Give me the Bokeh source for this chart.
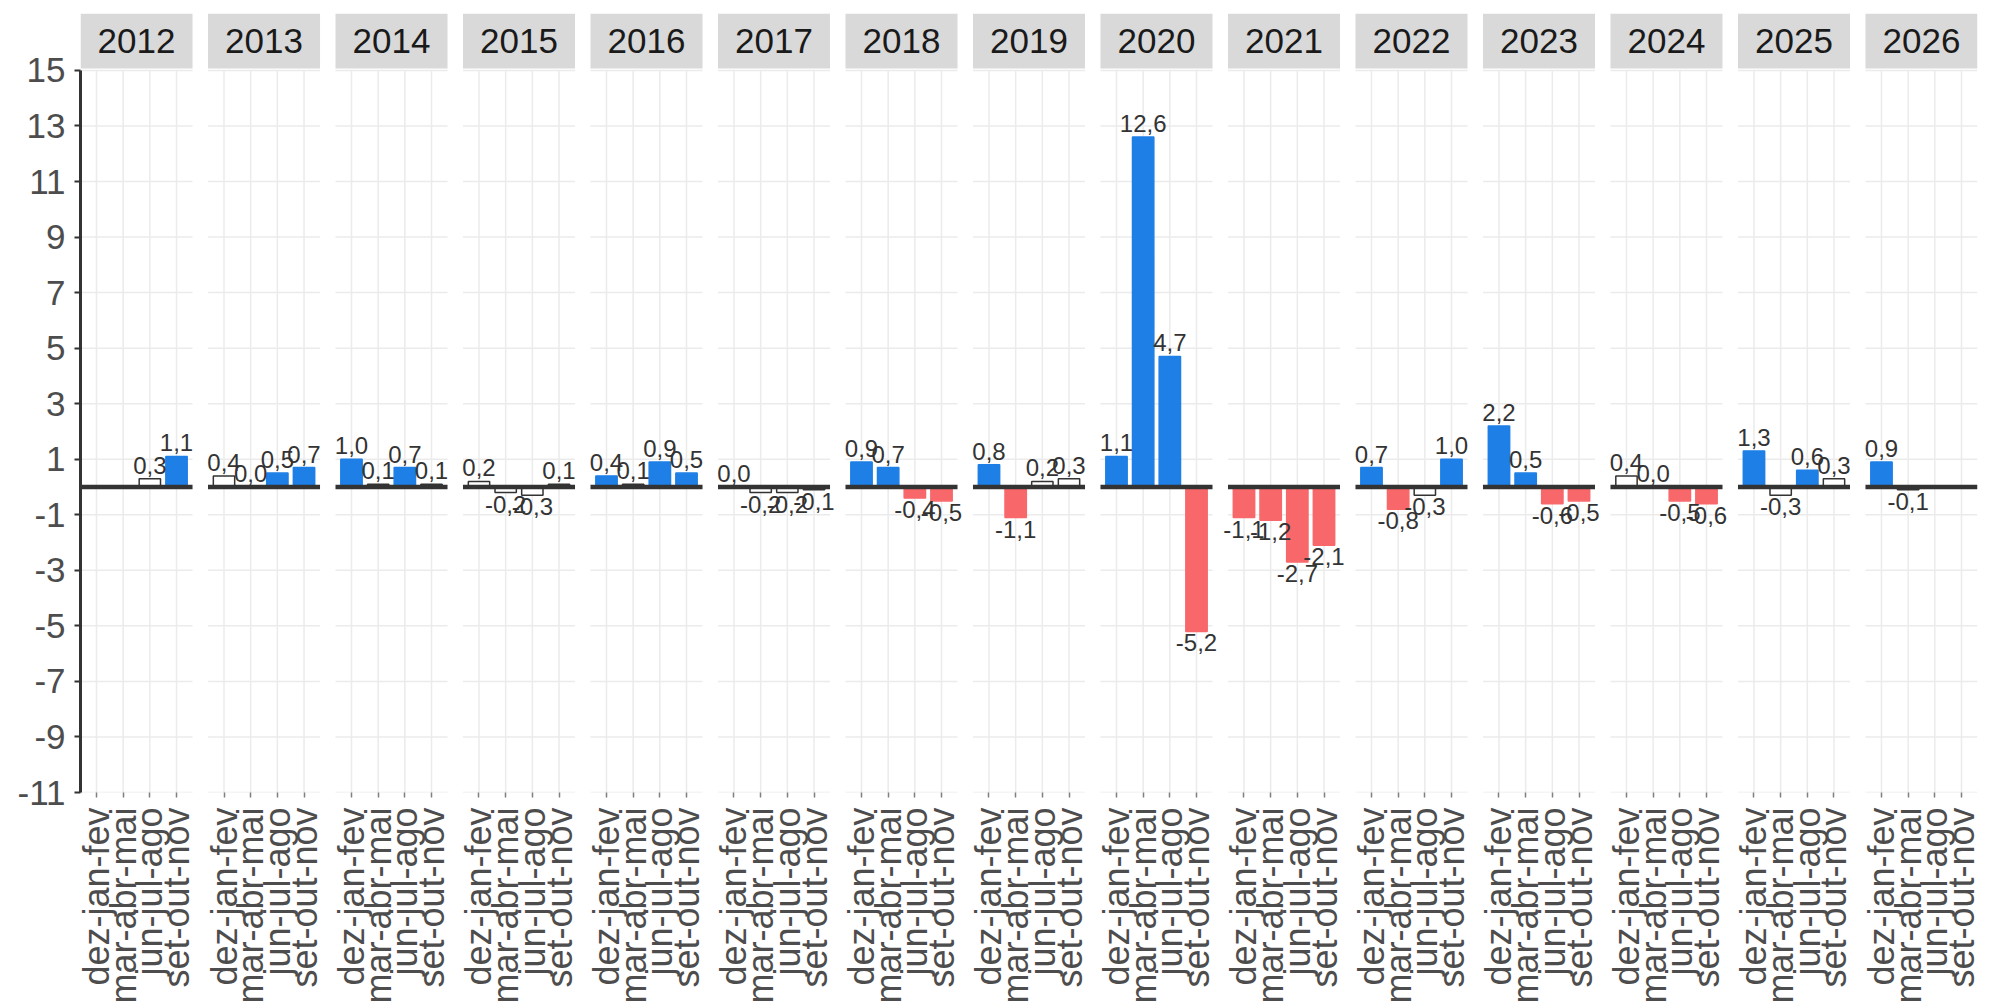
import math
from bokeh.plotting import figure
from bokeh.models import Range1d, FixedTicker, ColumnDataSource, AllLabels
from bokeh.embed import file_html
from bokeh.resources import INLINE
from bokeh.core.properties import value

# ---------------- data ----------------
years = [2012, 2013, 2014, 2015, 2016, 2017, 2018, 2019, 2020, 2021, 2022, 2023, 2024, 2025, 2026]
seasons = ["dez-jan-fev", "mar-abr-mai", "jun-jul-ago", "set-out-nov"]

dez_jan_fev = [None, 0.4, 1.0, 0.2, 0.4, 0.0, 0.9, 0.8, 1.1, -1.1, 0.7, 2.2, 0.4, 1.3, 0.9]
mar_abr_mai = [None, 0.0, 0.1, -0.2, 0.1, -0.2, 0.7, -1.1, 12.6, -1.2, -0.8, 0.5, 0.0, -0.3, -0.1]
jun_jul_ago = [0.3, 0.5, 0.7, -0.3, 0.9, -0.2, -0.4, 0.2, 4.7, -2.7, -0.3, -0.6, -0.5, 0.6, None]
set_out_nov = [1.1, 0.7, 0.1, 0.1, 0.5, -0.1, -0.5, 0.3, -5.2, -2.1, 1.0, -0.5, -0.6, 0.3, None]

# class of each bar: "+" above, "-" below, "0" not significant
cls_dez_jan_fev = ["", "0", "+", "0", "+", "0", "+", "+", "+", "-", "+", "+", "0", "+", "+"]
cls_mar_abr_mai = ["", "0", "0", "0", "0", "0", "+", "-", "+", "-", "-", "+", "0", "0", "0"]
cls_jun_jul_ago = ["0", "+", "+", "0", "+", "0", "-", "0", "+", "-", "0", "-", "-", "+", ""]
cls_set_out_nov = ["+", "+", "0", "0", "+", "0", "-", "0", "-", "-", "+", "-", "-", "0", ""]

y_ticks = [-11, -9, -7, -5, -3, -1, 1, 3, 5, 7, 9, 11, 13, 15]

series = [dez_jan_fev, mar_abr_mai, jun_jul_ago, set_out_nov]
classes = [cls_dez_jan_fev, cls_mar_abr_mai, cls_jun_jul_ago, cls_set_out_nov]

# ---------------- layout (facet geometry, in 1/100 of a category) ----------------
STEP = 100
OFFSET = 60
PANEL_W = 420
GAP = 58
PITCH = PANEL_W + GAP
X_MAX = len(years) * PANEL_W + (len(years) - 1) * GAP
Y_MIN, Y_MAX = -11, 15
STRIP_BOTTOM, STRIP_TOP = 15.07, 17.05

FILL = {"+": "#1E7FE6", "-": "#F8686B", "0": "#FFFFFF"}
LINE = {"+": "#1E7FE6", "-": "#F8686B", "0": "#333333"}
FONT = "Liberation Sans"

bars = dict(x=[], top=[], fill=[], line=[])
pos_lab = dict(x=[], y=[], t=[])
neg_lab = dict(x=[], y=[], t=[])
tick_pos, tick_lab = [], []
panel_left, panel_right, panel_mid = [], [], []

for i, yr in enumerate(years):
    left = i * PITCH
    panel_left.append(left)
    panel_right.append(left + PANEL_W)
    panel_mid.append(left + PANEL_W / 2)
    for j, s in enumerate(seasons):
        x = left + OFFSET + j * STEP
        tick_pos.append(x)
        tick_lab.append(s)
        v = series[j][i]
        if v is None:
            continue
        c = classes[j][i]
        bars["x"].append(x)
        bars["top"].append(v)
        bars["fill"].append(FILL[c])
        bars["line"].append(LINE[c])
        txt = f"{v:.1f}".replace(".", ",")
        d = pos_lab if v >= 0 else neg_lab
        d["x"].append(x)
        d["y"].append(v)
        d["t"].append(txt)

p = figure(width=1989, height=1006,
           x_range=Range1d(0, X_MAX), y_range=Range1d(Y_MIN, STRIP_TOP),
           output_backend="svg", toolbar_location=None,
           min_border_left=80, min_border_right=12, min_border_top=13, min_border_bottom=212)
p.outline_line_color = None
p.background_fill_color = "white"
p.xgrid.visible = False
p.ygrid.visible = False

# panel grid lines
hx0, hx1, hy = [], [], []
for l, r in zip(panel_left, panel_right):
    for t in y_ticks:
        hx0.append(l); hx1.append(r); hy.append(t)
p.segment(x0=hx0, x1=hx1, y0=hy, y1=hy, line_color="#EBEBEB", line_width=1.5)
p.segment(x0=tick_pos, x1=tick_pos, y0=[Y_MIN] * len(tick_pos), y1=[Y_MAX] * len(tick_pos),
          line_color="#EBEBEB", line_width=1.5)

# strips
p.quad(left=panel_left, right=panel_right, bottom=[STRIP_BOTTOM] * len(years),
       top=[STRIP_TOP] * len(years), fill_color="#D9D9D9", line_color=None)
p.text(x=panel_mid, y=[(STRIP_BOTTOM + STRIP_TOP) / 2] * len(years), text=[str(y) for y in years],
       text_font=value(FONT), text_font_size="35px", text_color="#1A1A1A",
       text_align="center", text_baseline="middle")

# bars
src = ColumnDataSource(bars)
p.vbar(x="x", top="top", bottom=0, width=80, source=src,
       fill_color="fill", line_color="line", line_width=1.5)

# zero line per panel
p.segment(x0=panel_left, x1=panel_right, y0=[0] * len(years), y1=[0] * len(years),
          line_color="#333333", line_width=4.5)

# value labels
p.text(x="x", y="y", text="t", source=ColumnDataSource(pos_lab),
       text_font=value(FONT), text_font_size="24px", text_color="#333333",
       text_align="center", text_baseline="bottom", y_offset=-5)
p.text(x="x", y="y", text="t", source=ColumnDataSource(neg_lab),
       text_font=value(FONT), text_font_size="24px", text_color="#333333",
       text_align="center", text_baseline="top", y_offset=3)

# y axis
ya = p.yaxis[0]
ya.ticker = FixedTicker(ticks=y_ticks)
ya.major_label_overrides = {t: str(t) for t in y_ticks}
ya.bounds = (Y_MIN, Y_MAX)
ya.axis_line_color = "#333333"
ya.axis_line_width = 3
ya.major_tick_line_color = "#333333"
ya.major_tick_line_width = 2
ya.major_tick_out = 6
ya.major_tick_in = 0
ya.minor_tick_line_color = None
ya.major_label_standoff = 9
ya.major_label_text_font = FONT
ya.major_label_text_font_size = "35px"
ya.major_label_text_color = "#4D4D4D"

# x axis
xa = p.xaxis[0]
xa.ticker = FixedTicker(ticks=tick_pos)
xa.major_label_overrides = {k: v for k, v in zip(tick_pos, tick_lab)}
xa.major_label_policy = AllLabels()
xa.axis_line_color = None
xa.major_tick_line_color = "#7F7F7F"
xa.major_tick_line_width = 1.5
xa.major_tick_out = 5
xa.major_tick_in = 0
xa.minor_tick_line_color = None
xa.major_label_orientation = math.pi / 2
xa.major_label_standoff = 10
xa.major_label_text_font = FONT
xa.major_label_text_font_size = "36px"
xa.major_label_text_color = "#4D4D4D"

open("out.html", "w").write(file_html(p, INLINE))
